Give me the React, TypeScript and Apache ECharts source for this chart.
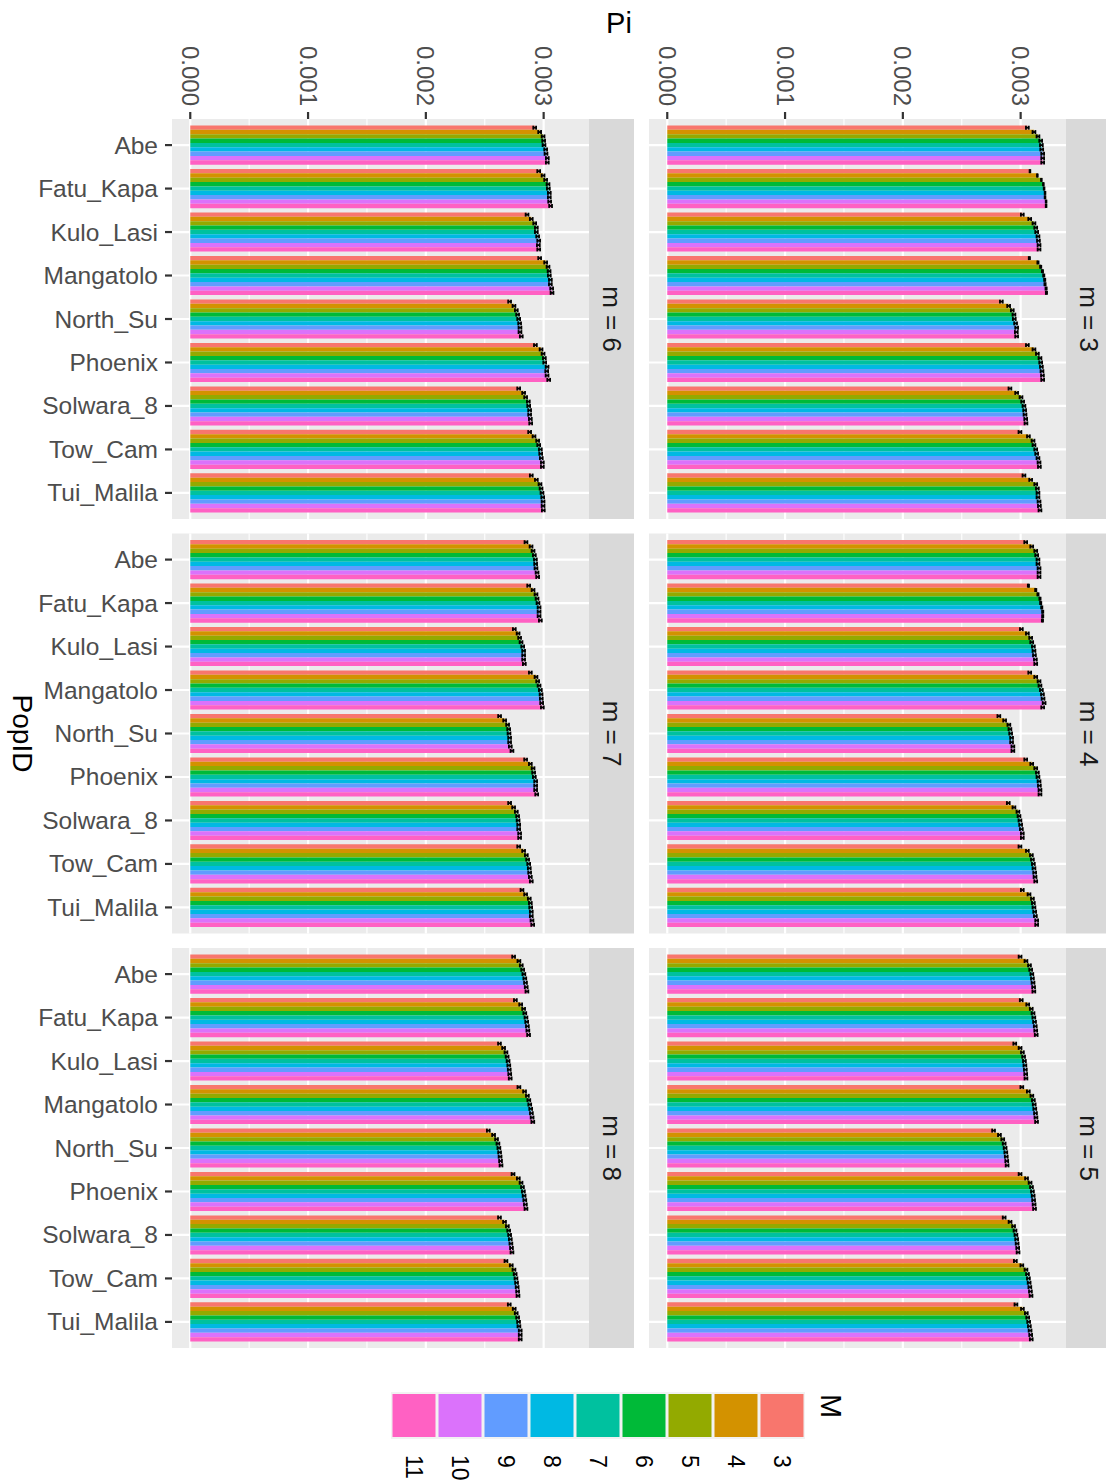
import React, { useEffect, useRef } from "react";
import * as echarts from "echarts";

// ---------- data ----------
const popIds = ["Abe", "Fatu_Kapa", "Kulo_Lasi", "Mangatolo", "North_Su", "Phoenix", "Solwara_8", "Tow_Cam", "Tui_Malila"];
const mLevels = ["3", "4", "5", "6", "7", "8", "9", "10", "11"];
const mColors = ["#F8766D", "#D39200", "#93AA00", "#00BA38", "#00C19F", "#00B9E3", "#619CFF", "#DB72FB", "#FF61C3"];
const facetLabels = ["m = 3", "m = 4", "m = 5", "m = 6", "m = 7", "m = 8"];
const piBreaks = [0, 0.001, 0.002, 0.003];
const piMinorBreaks = [0.0005, 0.0015, 0.0025];

// rows: popIds, columns: M = 3..11
const piM3 = [
  [0.003057, 0.003113, 0.003147, 0.00317, 0.003176, 0.003179, 0.003187, 0.003187, 0.003187],
  [0.003079, 0.003142, 0.003176, 0.003193, 0.003199, 0.003207, 0.003207, 0.003216, 0.003216],
  [0.003014, 0.003077, 0.003113, 0.003128, 0.003136, 0.003147, 0.003151, 0.003156, 0.003156],
  [0.003074, 0.003147, 0.00317, 0.003185, 0.003196, 0.003204, 0.003207, 0.003216, 0.003219],
  [0.002836, 0.002898, 0.002929, 0.002943, 0.002946, 0.002957, 0.002966, 0.002963, 0.002966],
  [0.003057, 0.003113, 0.003142, 0.003164, 0.00317, 0.003176, 0.003181, 0.003185, 0.003187],
  [0.002909, 0.002966, 0.003003, 0.003017, 0.003028, 0.003034, 0.003037, 0.003043, 0.003045],
  [0.002994, 0.003066, 0.003105, 0.003113, 0.003128, 0.003136, 0.003147, 0.003156, 0.003159],
  [0.003028, 0.003085, 0.003128, 0.003142, 0.003147, 0.003147, 0.003156, 0.003159, 0.003164],
];
const errM3 = [0.000012, 0.000003, 0.000012, 0.000005, 0.000012, 0.000012, 0.000012, 0.000012, 0.000012];

const piM4 = [
  [0.003043, 0.003094, 0.003128, 0.003136, 0.003147, 0.003147, 0.003156, 0.003156, 0.003156],
  [0.003066, 0.003128, 0.003147, 0.003164, 0.00317, 0.003179, 0.003187, 0.003187, 0.003185],
  [0.003006, 0.003057, 0.003085, 0.003094, 0.003108, 0.003113, 0.003117, 0.003125, 0.003128],
  [0.003077, 0.003128, 0.003156, 0.003164, 0.003176, 0.003185, 0.00319, 0.003199, 0.003187],
  [0.002815, 0.002864, 0.0029, 0.002909, 0.002915, 0.002923, 0.002923, 0.002934, 0.002934],
  [0.003043, 0.003094, 0.003128, 0.003142, 0.003147, 0.003156, 0.003159, 0.003164, 0.003164],
  [0.002895, 0.002943, 0.002977, 0.002986, 0.002994, 0.003, 0.003006, 0.003014, 0.003014],
  [0.002994, 0.003057, 0.003091, 0.0031, 0.003108, 0.003113, 0.003119, 0.003122, 0.003128],
  [0.003014, 0.003071, 0.0031, 0.003108, 0.003113, 0.003119, 0.003125, 0.003136, 0.003136],
];
const errM4 = [0.000012, 0.000005, 0.000012, 0.000012, 0.000012, 0.000012, 0.000012, 0.000012, 0.000012];

const piM5 = [
  [0.002995, 0.003045, 0.003075, 0.003085, 0.003095, 0.0031, 0.003105, 0.00311, 0.003112],
  [0.003005, 0.00306, 0.00309, 0.003105, 0.003112, 0.003118, 0.003124, 0.003128, 0.003132],
  [0.00295, 0.002995, 0.003015, 0.003025, 0.003032, 0.003036, 0.00304, 0.003043, 0.003045],
  [0.00301, 0.003065, 0.003095, 0.003108, 0.003115, 0.00312, 0.003126, 0.00313, 0.003135],
  [0.00277, 0.00282, 0.002848, 0.00286, 0.002868, 0.002874, 0.002878, 0.002882, 0.002885],
  [0.002995, 0.00305, 0.00308, 0.003092, 0.0031, 0.003106, 0.00311, 0.003114, 0.003118],
  [0.00286, 0.00291, 0.00294, 0.002952, 0.00296, 0.002966, 0.00297, 0.002975, 0.002978],
  [0.002955, 0.00301, 0.003045, 0.003058, 0.003066, 0.003072, 0.003078, 0.003083, 0.003088],
  [0.00296, 0.003015, 0.003048, 0.00306, 0.003068, 0.003074, 0.00308, 0.003085, 0.00309],
];
const errM5 = [0.000012, 0.000012, 0.000012, 0.000012, 0.000012, 0.000012, 0.000012, 0.000012, 0.000012];

const piM6 = [
  [0.002924, 0.002966, 0.002995, 0.003, 0.003003, 0.003017, 0.00302, 0.003031, 0.003031],
  [0.002958, 0.002995, 0.003017, 0.003037, 0.00304, 0.003048, 0.003048, 0.003051, 0.003059],
  [0.002859, 0.002895, 0.002924, 0.002938, 0.002938, 0.002949, 0.002958, 0.002955, 0.002958],
  [0.002966, 0.003017, 0.003037, 0.003046, 0.003048, 0.003057, 0.003057, 0.003068, 0.003071],
  [0.002711, 0.002748, 0.002768, 0.002779, 0.002788, 0.002796, 0.002799, 0.002799, 0.00281],
  [0.00293, 0.002978, 0.002995, 0.003006, 0.003009, 0.003029, 0.003026, 0.003029, 0.003043],
  [0.002788, 0.00283, 0.002847, 0.00287, 0.002873, 0.002881, 0.002881, 0.002887, 0.00289],
  [0.002881, 0.002918, 0.002949, 0.002958, 0.002972, 0.002975, 0.00298, 0.002989, 0.002989],
  [0.002895, 0.002938, 0.002969, 0.002978, 0.002986, 0.002992, 0.002995, 0.002995, 0.002997],
];
const errM6 = [0.000012, 0.000012, 0.000012, 0.000012, 0.000012, 0.000012, 0.000012, 0.000012, 0.000012];

const piM7 = [
  [0.00285, 0.002893, 0.00291, 0.002921, 0.00293, 0.002932, 0.002935, 0.002944, 0.002949],
  [0.002873, 0.00291, 0.002935, 0.002944, 0.002952, 0.002961, 0.002961, 0.002961, 0.002972],
  [0.002751, 0.002783, 0.002796, 0.002808, 0.002822, 0.00283, 0.00283, 0.00283, 0.002836],
  [0.002887, 0.002935, 0.002949, 0.002961, 0.002972, 0.002978, 0.00298, 0.002983, 0.002989],
  [0.002626, 0.002669, 0.002694, 0.002703, 0.002706, 0.002711, 0.002711, 0.002717, 0.002731],
  [0.002847, 0.002887, 0.00291, 0.002915, 0.002921, 0.002932, 0.002932, 0.002932, 0.002941],
  [0.002711, 0.002745, 0.002768, 0.002779, 0.002783, 0.002788, 0.002788, 0.002796, 0.002796],
  [0.002788, 0.00283, 0.002853, 0.002864, 0.002873, 0.002878, 0.002881, 0.002887, 0.002895],
  [0.002816, 0.002847, 0.002878, 0.002887, 0.00289, 0.002895, 0.002895, 0.002901, 0.002907],
];
const errM7 = [0.000012, 0.000012, 0.000012, 0.000012, 0.000012, 0.000012, 0.000012, 0.000012, 0.000012];

const piM8 = [
  [0.002745, 0.00279, 0.00281, 0.002822, 0.002832, 0.00284, 0.002846, 0.002852, 0.002858],
  [0.00276, 0.002805, 0.00283, 0.00284, 0.00285, 0.002856, 0.002862, 0.002866, 0.002872],
  [0.002625, 0.00266, 0.00268, 0.00269, 0.002698, 0.002704, 0.002708, 0.002712, 0.002716],
  [0.00279, 0.002838, 0.002862, 0.002874, 0.002882, 0.00289, 0.002896, 0.002902, 0.002908],
  [0.00253, 0.002575, 0.0026, 0.002612, 0.00262, 0.002626, 0.00263, 0.002634, 0.002638],
  [0.00274, 0.002785, 0.002808, 0.00282, 0.002828, 0.002834, 0.00284, 0.002845, 0.00285],
  [0.002625, 0.002668, 0.002692, 0.002703, 0.002711, 0.002717, 0.002722, 0.002727, 0.002731],
  [0.00268, 0.002725, 0.002748, 0.002758, 0.002765, 0.00277, 0.002775, 0.002779, 0.002782],
  [0.002708, 0.00275, 0.002767, 0.002779, 0.002787, 0.00279, 0.002801, 0.002801, 0.002801],
];
const errM8 = [0.000012, 0.000012, 0.000012, 0.000012, 0.000012, 0.000012, 0.000012, 0.000012, 0.000012];

const facetValues = [piM3, piM4, piM5, piM6, piM7, piM8];
const facetErrors = [errM3, errM4, errM5, errM6, errM7, errM8];

// ---------- layout / style ----------
const FONT = "'Liberation Sans', Arial, Helvetica, sans-serif";
const colLeft = [172, 649];
const rowTop = [119, 533.5, 948];
const PANEL_W = 417;
const PANEL_H = 400;
const STRIP_W = 45;
const X_MIN = -0.000155;
const X_MAX = 0.003385;
const Y_MIN = -0.6;
const Y_MAX = 8.6;
const ROT = -Math.PI / 2;

function facetPos(f: number) {
  const col = f < 3 ? 1 : 0;
  const row = f % 3;
  return { left: colLeft[col], top: rowTop[row], col, row };
}

function textEl(x: number, y: number, text: string, size: number, fill: string, align: string, vAlign: string, rotation = 0) {
  return {
    type: "text",
    x,
    y,
    rotation,
    style: {
      text,
      x: 0,
      y: 0,
      fill,
      textFill: fill,
      fontSize: size,
      fontFamily: FONT,
      align,
      textAlign: align,
      verticalAlign: vAlign,
      textVerticalAlign: vAlign,
    },
  };
}

function buildOption() {
  const grid: any[] = [];
  const xAxis: any[] = [];
  const yAxis: any[] = [];
  const series: any[] = [];
  const graphic: any[] = [];
  const gridVals = piBreaks.concat(piMinorBreaks);

  for (let f = 0; f < 6; f++) {
    const p = facetPos(f);
    grid.push({ left: p.left, top: p.top, width: PANEL_W, height: PANEL_H, show: true, backgroundColor: "#EBEBEB", borderWidth: 0 });
    xAxis.push({ gridIndex: f, type: "value", min: X_MIN, max: X_MAX, show: false });
    yAxis.push({ gridIndex: f, type: "value", min: Y_MIN, max: Y_MAX, inverse: true, show: false });

    // vertical grid lines
    series.push({
      type: "custom", xAxisIndex: f, yAxisIndex: f, z: 1, silent: true,
      data: gridVals.map((v) => [v, 0]),
      encode: { x: 0, y: 1 },
      renderItem: (params: any, api: any) => {
        const v = api.value(0);
        const x = api.coord([v, 0])[0];
        const cs = params.coordSys;
        const major = piBreaks.some((b) => Math.abs(b - v) < 1e-9);
        return { type: "line", shape: { x1: x, y1: cs.y, x2: x, y2: cs.y + cs.height }, style: { stroke: "#FFFFFF", lineWidth: major ? 2.2 : 1.1 } };
      },
    });
    // horizontal category lines
    series.push({
      type: "custom", xAxisIndex: f, yAxisIndex: f, z: 1, silent: true,
      data: popIds.map((_, i) => [0, i]),
      encode: { x: 0, y: 1 },
      renderItem: (params: any, api: any) => {
        const y = api.coord([0, api.value(1)])[1];
        const cs = params.coordSys;
        return { type: "line", shape: { x1: cs.x, y1: y, x2: cs.x + cs.width, y2: y }, style: { stroke: "#FFFFFF", lineWidth: 2.2 } };
      },
    });

    const vals = facetValues[f];
    const errs = facetErrors[f];
    // bars, one series per M
    for (let j = 0; j < mLevels.length; j++) {
      series.push({
        type: "custom", name: mLevels[j], xAxisIndex: f, yAxisIndex: f, z: 2, silent: true,
        data: popIds.map((_, i) => [vals[i][j], i]),
        encode: { x: 0, y: 1 },
        renderItem: (params: any, api: any) => {
          const v = api.value(0);
          const c = api.value(1);
          const yTop = api.coord([0, c - 0.45 + j * 0.1])[1];
          const yBot = api.coord([0, c - 0.45 + (j + 1) * 0.1])[1];
          const x0 = api.coord([0, c])[0];
          const x1 = api.coord([v, c])[0];
          return { type: "rect", shape: { x: x0, y: yTop, width: x1 - x0, height: yBot - yTop }, style: { fill: mColors[j] } };
        },
      });
    }
    // error bars
    const errData: number[][] = [];
    for (let i = 0; i < popIds.length; i++) {
      for (let j = 0; j < mLevels.length; j++) errData.push([vals[i][j], i, errs[i], j]);
    }
    series.push({
      type: "custom", xAxisIndex: f, yAxisIndex: f, z: 3, silent: true,
      data: errData,
      encode: { x: 0, y: 1 },
      renderItem: (params: any, api: any) => {
        const v = api.value(0);
        const c = api.value(1);
        const e = api.value(2);
        const j = api.value(3);
        const yTop = api.coord([0, c - 0.45 + j * 0.1])[1];
        const yBot = api.coord([0, c - 0.45 + (j + 1) * 0.1])[1];
        const ym = (yTop + yBot) / 2;
        const h = (yBot - yTop) * 0.45;
        const xl = api.coord([v - e, c])[0];
        const xr = api.coord([v + e, c])[0];
        const st = { stroke: "#000000", lineWidth: 1.8 };
        return {
          type: "group",
          children: [
            { type: "line", shape: { x1: xl, y1: ym, x2: xr, y2: ym }, style: st },
            { type: "line", shape: { x1: xl, y1: ym - h, x2: xl, y2: ym + h }, style: st },
            { type: "line", shape: { x1: xr, y1: ym - h, x2: xr, y2: ym + h }, style: st },
          ],
        };
      },
    });

    // top axis (value) ticks + labels for top row
    if (p.row === 0) {
      series.push({
        type: "custom", xAxisIndex: f, yAxisIndex: f, z: 4, silent: true,
        data: piBreaks.map((v) => [v, Y_MIN]),
        encode: { x: 0, y: 1 },
        renderItem: (params: any, api: any) => {
          const v = api.value(0);
          const x = api.coord([v, 0])[0];
          const top = params.coordSys.y;
          return {
            type: "group",
            children: [
              { type: "line", shape: { x1: x, y1: top - 7, x2: x, y2: top }, style: { stroke: "#333333", lineWidth: 2.2 } },
              textEl(x, top - 13, v.toFixed(3), 24, "#4D4D4D", "right", "middle", ROT),
            ],
          };
        },
      });
    }
    // left axis (category) ticks + labels for left column
    if (p.col === 0) {
      series.push({
        type: "custom", xAxisIndex: f, yAxisIndex: f, z: 4, silent: true,
        data: popIds.map((_, i) => [0, i]),
        encode: { x: 0, y: 1 },
        renderItem: (params: any, api: any) => {
          const i = api.value(1);
          const y = api.coord([0, i])[1];
          const left = params.coordSys.x;
          return {
            type: "group",
            children: [
              { type: "line", shape: { x1: left - 7, y1: y, x2: left, y2: y }, style: { stroke: "#333333", lineWidth: 2.2 } },
              textEl(left - 14, y, popIds[params.dataIndex], 24.5, "#4D4D4D", "right", "middle"),
            ],
          };
        },
      });
    }

    // strip
    graphic.push({ type: "rect", x: p.left + PANEL_W, y: p.top, shape: { x: 0, y: 0, width: STRIP_W, height: PANEL_H }, style: { fill: "#D9D9D9" }, silent: true });
    graphic.push(textEl(p.left + PANEL_W + STRIP_W / 2, p.top + PANEL_H / 2, facetLabels[f], 26, "#1A1A1A", "center", "middle", ROT));
  }

  // axis titles
  graphic.push(textEl(619, 23, "Pi", 29, "#000000", "center", "middle"));
  graphic.push(textEl(22, 733.5, "PopID", 28, "#000000", "center", "middle", ROT));

  // legend (rotated, keys from 11 to 3 left to right)
  const legX = 391;
  const legY = 1392;
  const keyW = 46;
  graphic.push({ type: "rect", x: legX, y: legY, shape: { x: 0, y: 0, width: keyW * mLevels.length, height: 47 }, style: { fill: "#F2F2F2" }, silent: true });
  for (let k = 0; k < mLevels.length; k++) {
    const j = mLevels.length - 1 - k;
    graphic.push({ type: "rect", x: legX + k * keyW + 1.5, y: legY + 2, shape: { x: 0, y: 0, width: 43, height: 43 }, style: { fill: mColors[j] }, silent: true });
    graphic.push(textEl(legX + k * keyW + keyW / 2, 1455, mLevels[j], 23, "#000000", "left", "middle", ROT));
  }
  graphic.push(textEl(831, 1394, "M", 29, "#000000", "left", "middle", ROT));

  return { animation: false, backgroundColor: "#FFFFFF", grid, xAxis, yAxis, series, graphic };
}

export default function App() {
  const ref = useRef<HTMLDivElement>(null);
  useEffect(() => {
    if (!ref.current) return;
    const chart = echarts.init(ref.current, undefined, { renderer: "svg" });
    chart.setOption(buildOption() as any);
    return () => chart.dispose();
  }, []);
  return <div ref={ref} style={{ position: "absolute", left: 0, top: 0, width: 1106, height: 1481 }} />;
}
